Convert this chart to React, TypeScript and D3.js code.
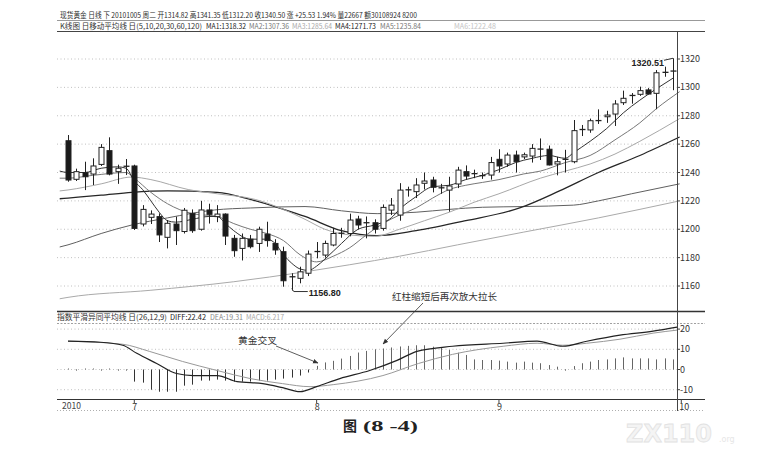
import React, { useEffect, useRef } from 'react';
import * as d3 from 'd3';

// daily candles, index 0 = first bar on the left (late June 2010)
const opens = [
  1262.4, 1235.2, 1239.9, 1238.9, 1245.7, 1255.4, 1240.6, 1243.7, 1244.6, 1203.7,
  1208.4, 1208.9, 1194.3, 1203.7, 1198.4, 1211.2, 1200.0, 1213.6, 1208.9, 1210.7,
  1193.6, 1186.5, 1193.0, 1190.0, 1196.6, 1190.0, 1184.2, 1165.8, 1165.4, 1169.0,
  1183.5, 1181.8, 1188.9, 1196.6, 1197.0, 1207.2, 1204.0, 1204.6, 1200.6, 1213.5,
  1210.0, 1227.2, 1226.5, 1232.4, 1234.7, 1229.2, 1227.6, 1231.9, 1240.6, 1238.6,
  1237.8, 1238.2, 1249.3, 1246.0, 1252.3, 1251.0, 1251.6, 1255.5, 1256.4, 1246.0,
  1248.6, 1247.6, 1269.7, 1270.0, 1276.0, 1279.3, 1281.2, 1289.2, 1293.7, 1295.1,
  1298.2, 1295.8, 1310.0, 1311.5
];
const highs = [
  1266.4, 1242.7, 1247.6, 1250.0, 1260.0, 1264.8, 1245.5, 1249.5, 1245.5, 1217.0,
  1213.3, 1211.2, 1206.5, 1208.9, 1215.0, 1214.0, 1220.0, 1218.0, 1217.0, 1211.2,
  1196.0, 1197.0, 1196.0, 1201.8, 1205.3, 1193.0, 1187.7, 1169.0, 1173.6, 1185.0,
  1191.0, 1192.0, 1201.0, 1201.0, 1211.0, 1209.5, 1209.0, 1207.0, 1217.5, 1222.0,
  1232.5, 1230.0, 1236.0, 1240.0, 1237.0, 1232.0, 1237.0, 1244.0, 1245.0, 1242.0,
  1240.0, 1251.0, 1256.4, 1254.0, 1255.4, 1254.0, 1260.0, 1264.0, 1259.0, 1251.0,
  1256.0, 1277.0, 1273.5, 1278.0, 1284.5, 1283.5, 1291.0, 1297.7, 1296.0, 1300.5,
  1299.5, 1312.2, 1314.6, 1320.51
];
const lows = [
  1233.5, 1234.0, 1227.6, 1231.2, 1244.6, 1238.0, 1232.0, 1238.2, 1199.5, 1202.0,
  1203.7, 1191.0, 1186.5, 1188.9, 1197.0, 1197.5, 1199.0, 1204.0, 1205.0, 1188.9,
  1180.6, 1178.0, 1186.5, 1184.0, 1187.7, 1182.0, 1159.5, 1156.8, 1161.9, 1167.0,
  1179.5, 1180.0, 1188.0, 1194.0, 1195.0, 1200.0, 1193.6, 1197.0, 1199.0, 1210.0,
  1206.0, 1223.0, 1222.0, 1228.0, 1226.0, 1225.0, 1212.4, 1229.0, 1235.0, 1236.0,
  1235.5, 1235.0, 1240.0, 1244.0, 1240.0, 1249.5, 1247.0, 1248.8, 1245.0, 1238.0,
  1240.0, 1246.5, 1265.7, 1268.0, 1274.2, 1275.0, 1272.8, 1287.6, 1288.5, 1294.0,
  1295.0, 1284.6, 1307.5, 1298.0
];
const closes = [
  1234.7, 1240.6, 1237.0, 1244.6, 1257.7, 1238.9, 1243.0, 1244.4, 1200.6, 1214.0,
  1210.7, 1196.0, 1204.2, 1199.0, 1213.4, 1199.0, 1213.6, 1210.5, 1210.7, 1195.2,
  1184.9, 1193.6, 1187.7, 1200.0, 1192.0, 1185.4, 1163.7, 1166.5, 1170.0, 1182.5,
  1184.3, 1190.0, 1197.0, 1197.2, 1206.5, 1203.0, 1204.6, 1200.0, 1215.4, 1217.0,
  1227.6, 1227.8, 1231.2, 1234.0, 1229.6, 1228.9, 1230.5, 1241.7, 1237.5, 1239.2,
  1237.2, 1247.0, 1244.6, 1252.3, 1247.6, 1252.5, 1257.0, 1256.5, 1245.3, 1247.6,
  1249.3, 1269.5, 1270.3, 1276.5, 1276.6, 1280.5, 1288.3, 1292.3, 1294.3, 1297.7,
  1295.3, 1310.3, 1310.6, 1310.8
];

// moving averages as [bar index, price]
const ma5: [number, number][] = [
  [-1, 1241], [0, 1240], [2, 1240], [4, 1243], [6, 1244], [7, 1243], [8, 1234], [9, 1228],
  [10, 1220], [11, 1212], [12, 1206], [13, 1205], [15, 1207], [17, 1209], [18, 1209],
  [19, 1204], [20, 1199], [22, 1193], [24, 1193], [25, 1190], [26, 1182], [27, 1176],
  [28, 1172], [29, 1171], [30, 1174], [31, 1179], [33, 1190], [35, 1200], [37, 1203],
  [39, 1208], [40, 1214], [42, 1223], [44, 1230], [46, 1231], [48, 1235], [50, 1238],
  [52, 1242], [54, 1247], [56, 1250], [58, 1252], [60, 1250], [61, 1254], [63, 1262],
  [65, 1271], [67, 1282], [69, 1291], [71, 1299], [73, 1306.5]
];
const ma10: [number, number][] = [
  [-1, 1236], [0, 1236], [3, 1238], [7, 1240], [8, 1236], [10, 1226], [12, 1218],
  [15, 1211], [18, 1209], [20, 1204], [22, 1200], [24, 1197], [26, 1192], [28, 1182],
  [30, 1177], [32, 1181], [34, 1187], [36, 1196], [38, 1204], [40, 1210], [42, 1215],
  [44, 1222], [46, 1228], [48, 1231], [50, 1233], [52, 1235], [55, 1239], [57, 1241],
  [60, 1247], [63, 1252], [66, 1263], [69, 1275], [71, 1285], [73.8, 1297]
];
const ma20: [number, number][] = [
  [-1, 1227], [0, 1227.7], [4, 1232], [7.7, 1236.8], [10, 1235], [14.5, 1228],
  [18, 1225], [22.6, 1221], [26, 1214], [28.6, 1207], [31, 1200], [34, 1196],
  [37, 1195], [40, 1200], [43, 1206], [46, 1212], [49, 1219], [52, 1225], [57, 1236],
  [60, 1241], [63, 1246], [66, 1253], [69, 1262], [73.8, 1278]
];
const ma30: [number, number][] = [
  [-1, 1221.5], [0, 1222], [4, 1224], [7.7, 1226], [12, 1227], [18, 1226], [22, 1221],
  [26, 1214], [28.6, 1209], [33, 1199], [37.3, 1195.5], [42, 1199], [48, 1206],
  [54.5, 1215], [59.3, 1227], [64, 1240], [69, 1252], [73.8, 1265]
];
const ma60: [number, number][] = [
  [-1, 1187.5], [0, 1189], [4, 1197], [7.7, 1203], [12, 1208], [17.7, 1213.6], [22, 1215],
  [28.6, 1216], [33, 1213], [37.3, 1211], [42, 1212], [46, 1214], [50, 1215.5],
  [55, 1216], [61, 1217], [64, 1220], [68, 1225], [73.8, 1232]
];
const ma120: [number, number][] = [
  [-1, 1151], [0, 1152], [10, 1157], [20, 1163], [28.6, 1170], [34, 1175], [40, 1181],
  [47, 1189], [55, 1198], [64, 1208], [73.8, 1220]
];

const diffLine: [number, number][] = [
  [0, 14], [3.9, 13.5], [6.6, 12], [8.3, 8], [10.7, 3], [13.1, -2], [15.1, -3], [18, -3],
  [20.4, -6], [23.5, -7], [25.9, -9], [28, -11], [30, -8.5], [32.8, -4.5], [36.4, -0.5],
  [39.7, 4.5], [42.1, 9], [46.4, 11.5], [52.5, 13], [56.6, 14], [59.7, 11.5], [62.6, 14],
  [66.6, 17], [70.6, 19], [73.5, 21]
];
const deaLine: [number, number][] = [
  [0, 14], [6.6, 12.5], [9.8, 9], [13.8, 4], [18, -0.5], [22, -4.5], [25.9, -7],
  [29.2, -8.5], [32, -7.5], [38, -3], [42.3, 3], [46.4, 7.5], [52.5, 11.5], [56.6, 13],
  [59.7, 12], [62.6, 13], [66.6, 15], [70.6, 18], [73.5, 19.5]
];
const macdBars = [
  0.5, -0.5, 0.5, 0.5, -0.5, 0.5, -0.5, -0.5, -6, -6.5,
  -10, -11, -11, -11, -8, -7.5, -5.5, -5.5, -5, -5.5,
  -6, -6, -6, -5.5, -5.5, -5, -4.5, -4, -3, -1.5,
  1.8, 3.5, 4.3, 5.4, 6.7, 8.4, 9.2, 10, 10.4, 10.9,
  11.4, 11.7, 12, 12, 11.3, 10.8, 9.7, 8.3, 7.2, 5,
  4.7, 4.7, 4.4, 3.9, 3.4, 3.9, 3.4, 3.1, 2.2, 1.4,
  -0.5, 1.7, 3.1, 3.9, 4.7, 5, 5.5, 6, 5.5, 5.5,
  5.5, 5, 5.5, 5
];

const priceTicks = [1160, 1180, 1200, 1220, 1240, 1260, 1280, 1300, 1320];
const macdTicks = [20, 10, 0, -10];
const monthIdx = [8, 30, 52, 74];
const monthLabels = ['7', '8', '9', '10'];

const quoteHeader = '现货黄金 日线 下 20101005 周二 开1314.82 高1341.35 低1312.20 收1340.50 涨 +25.53 1.94% 量22667 额30108924 8200';

// header pieces with the x where each starts
const maHeader = ['K线图 日移动平均线 日(5,10,20,30,60,120)', 'MA1:1318.32', 'MA2:1307.36', 'MA3:1285.64', 'MA4:1271.73', 'MA5:1235.84', 'MA6:1222.48'];
const maHeaderX = [60, 206, 249, 292, 335, 380, 454];
const maHeaderW = [142, 40, 40, 40, 41, 41, 42];
const maHeaderColors = ['#333', '#222', '#777', '#aaa', '#222', '#777', '#c4c4c4'];

const macdHeader = ['指数平滑异同平均线 日(26,12,9)', 'DIFF:22.42', 'DEA:19.31', 'MACD:6.217'];
const macdHeaderX = [57, 170, 210, 246];
const macdHeaderW = [110, 36, 33, 38];
const macdHeaderColors = ['#333', '#222', '#888', '#aaa'];

const FONT = "'Noto Sans CJK SC', 'Noto Sans', sans-serif";

const App: React.FC = () => {
  const svgRef = useRef<SVGSVGElement>(null);

  useEffect(() => {
    if (!svgRef.current) return;
    const svg = d3.select(svgRef.current);
    svg.selectAll('*').remove();

    const left = 57;
    const axisX = 677;
    const rightEnd = 705;

    const x = d3.scaleLinear().domain([0, 73]).range([68, 673]);
    const yP = d3.scaleLinear().domain([1160, 1320]).range([286, 59]);
    const yM = d3.scaleLinear().domain([-10, 20]).range([389.7, 329.1]);

    svg.append('rect').attr('width', 759).attr('height', 451).attr('fill', '#fff');

    const defs = svg.append('defs');
    defs.append('marker')
      .attr('id', 'arr')
      .attr('viewBox', '0 0 10 10')
      .attr('refX', 9).attr('refY', 5)
      .attr('markerWidth', 7).attr('markerHeight', 7)
      .attr('orient', 'auto')
      .append('path').attr('d', 'M0,1 L10,5 L0,9 Z').attr('fill', '#333');

    const headerRow = (parts: string[], xs: number[], ws: number[], colors: string[], y: number) => {
      parts.forEach((s, i) => {
        svg.append('text')
          .attr('x', xs[i]).attr('y', y)
          .attr('font-family', FONT).attr('font-size', 7.6).attr('fill', colors[i])
          .attr('textLength', ws[i]).attr('lengthAdjust', 'spacingAndGlyphs')
          .text(s);
      });
    };

    const hl = (y: number, color: string, w: number, dash?: string) => {
      const l = svg.append('line')
        .attr('x1', left).attr('x2', rightEnd).attr('y1', y).attr('y2', y)
        .attr('stroke', color).attr('stroke-width', w);
      if (dash) l.attr('stroke-dasharray', dash);
      return l;
    };

    // header rows
    svg.append('text')
      .attr('x', 60).attr('y', 17.5)
      .attr('font-family', FONT).attr('font-size', 7.6).attr('fill', '#2a2a2a')
      .attr('textLength', 357).attr('lengthAdjust', 'spacingAndGlyphs')
      .text(quoteHeader);
    hl(20.5, '#999', 1);
    headerRow(maHeader, maHeaderX, maHeaderW, maHeaderColors, 28.5);
    hl(31.5, '#444', 1);

    // price grid
    priceTicks.forEach(p => {
      svg.append('line')
        .attr('x1', left).attr('x2', axisX).attr('y1', yP(p)).attr('y2', yP(p))
        .attr('stroke', '#b0b0b0').attr('stroke-width', 0.8).attr('stroke-dasharray', '1,2.5');
      svg.append('line')
        .attr('x1', axisX).attr('x2', axisX + 3).attr('y1', yP(p)).attr('y2', yP(p))
        .attr('stroke', '#444');
      svg.append('text')
        .attr('x', axisX + 3).attr('y', yP(p) + 3)
        .attr('font-family', FONT).attr('font-size', 9).attr('fill', '#333')
        .text(p);
    });

    // moving averages
    const line = d3.line<[number, number]>()
      .x(d => x(d[0]))
      .y(d => yP(d[1]))
      .curve(d3.curveMonotoneX);
    const maStyles: [[number, number][], string, number][] = [
      [ma120, '#aaa', 1],
      [ma60, '#606060', 1],
      [ma30, '#262626', 1.3],
      [ma20, '#a8a8a8', 1],
      [ma10, '#777', 1],
      [ma5, '#333', 1]
    ];
    maStyles.forEach(([data, color, w]) => {
      svg.append('path')
        .datum(data)
        .attr('d', line)
        .attr('fill', 'none')
        .attr('stroke', color)
        .attr('stroke-width', w);
    });

    // candles
    const bw = 5;
    const candles = svg.append('g');
    opens.forEach((o, i) => {
      const c = closes[i];
      const cx = Math.round(x(i)) + 0.5;
      candles.append('line')
        .attr('x1', cx).attr('x2', cx)
        .attr('y1', yP(highs[i])).attr('y2', yP(lows[i]))
        .attr('stroke', '#222').attr('stroke-width', 1);
      const top = yP(Math.max(o, c));
      const h = Math.abs(yP(o) - yP(c));
      if (h < 1.5) {
        candles.append('line')
          .attr('x1', cx - bw / 2 - 0.5).attr('x2', cx + bw / 2 + 0.5)
          .attr('y1', top).attr('y2', top)
          .attr('stroke', '#222').attr('stroke-width', 1.3);
      } else {
        candles.append('rect')
          .attr('x', cx - bw / 2).attr('y', top)
          .attr('width', bw).attr('height', h)
          .attr('fill', c < o ? '#1a1a1a' : '#fff')
          .attr('stroke', '#222').attr('stroke-width', 1);
      }
    });

    // low / high labels
    const lowI = 27;
    const lx = x(lowI);
    const ly = yP(lows[lowI]);
    svg.append('path')
      .attr('d', `M${lx},${ly - 2} L${lx + 2},${ly + 1} L${lx + 16},${ly + 1}`)
      .attr('fill', 'none').attr('stroke', '#333');
    svg.append('text')
      .attr('x', lx + 17).attr('y', ly + 5)
      .attr('font-family', "'Liberation Sans', sans-serif").attr('font-size', 9)
      .attr('font-weight', 'bold').attr('fill', '#222')
      .text(lows[lowI].toFixed(2));

    const hiI = 73;
    const hx = x(hiI);
    const hy = yP(highs[hiI]);
    svg.append('line')
      .attr('x1', hx - 9).attr('y1', hy + 2).attr('x2', hx).attr('y2', hy)
      .attr('stroke', '#333');
    svg.append('text')
      .attr('x', hx - 9).attr('y', hy + 8)
      .attr('text-anchor', 'end')
      .attr('font-family', "'Liberation Sans', sans-serif").attr('font-size', 9)
      .attr('font-weight', 'bold').attr('fill', '#222')
      .text(highs[hiI].toFixed(2));

    // MACD panel
    hl(311.5, '#333', 1.6);
    headerRow(macdHeader, macdHeaderX, macdHeaderW, macdHeaderColors, 320);
    hl(323.5, '#888', 0.8, '2,1.5');

    macdTicks.forEach(v => {
      svg.append('line')
        .attr('x1', left).attr('x2', axisX).attr('y1', yM(v)).attr('y2', yM(v))
        .attr('stroke', '#b0b0b0').attr('stroke-width', 0.8).attr('stroke-dasharray', '1,2.5');
      svg.append('line')
        .attr('x1', axisX).attr('x2', axisX + 3).attr('y1', yM(v)).attr('y2', yM(v))
        .attr('stroke', '#444');
      svg.append('text')
        .attr('x', axisX + 3).attr('y', yM(v) + 3)
        .attr('font-family', FONT).attr('font-size', 9).attr('fill', '#333')
        .text(v);
    });

    macdBars.forEach((v, i) => {
      const bx = Math.round(x(i)) + 0.5;
      svg.append('line')
        .attr('x1', bx).attr('x2', bx)
        .attr('y1', yM(0)).attr('y2', yM(v))
        .attr('stroke', v < 0 ? '#333' : '#666').attr('stroke-width', 1);
    });

    const mline = d3.line<[number, number]>()
      .x(d => x(d[0]))
      .y(d => yM(d[1]))
      .curve(d3.curveMonotoneX);
    svg.append('path').datum(deaLine).attr('d', mline)
      .attr('fill', 'none').attr('stroke', '#999').attr('stroke-width', 1);
    svg.append('path').datum(diffLine).attr('d', mline)
      .attr('fill', 'none').attr('stroke', '#222').attr('stroke-width', 1.2);

    // annotations
    svg.append('text')
      .attr('x', 392).attr('y', 299.5)
      .attr('font-family', FONT).attr('font-size', 9.5).attr('fill', '#333')
      .attr('textLength', 105).attr('lengthAdjust', 'spacingAndGlyphs')
      .text('红柱缩短后再次放大拉长');
    svg.append('line')
      .attr('x1', 423).attr('y1', 303).attr('x2', 383).attr('y2', 344)
      .attr('stroke', '#333').attr('stroke-width', 0.8).attr('marker-end', 'url(#arr)');

    svg.append('text')
      .attr('x', 238).attr('y', 343.5)
      .attr('font-family', FONT).attr('font-size', 9.5).attr('fill', '#333')
      .attr('textLength', 39).attr('lengthAdjust', 'spacingAndGlyphs')
      .text('黄金交叉');
    svg.append('line')
      .attr('x1', 276).attr('y1', 346).attr('x2', 318).attr('y2', 363)
      .attr('stroke', '#333').attr('stroke-width', 0.8).attr('marker-end', 'url(#arr)');

    // bottom axis
    hl(399.5, '#333', 1);
    hl(410.5, '#999', 0.8, '1,2');
    svg.append('line')
      .attr('x1', axisX + 0.5).attr('x2', axisX + 0.5).attr('y1', 31.5).attr('y2', 411)
      .attr('stroke', '#444').attr('stroke-width', 1);

    svg.append('text')
      .attr('x', 62).attr('y', 409)
      .attr('font-family', FONT).attr('font-size', 8.5).attr('fill', '#444')
      .text('2010');
    monthIdx.forEach((m, i) => {
      const mx = x(m);
      svg.append('line')
        .attr('x1', mx).attr('x2', mx).attr('y1', 399.5).attr('y2', 403)
        .attr('stroke', '#444');
      svg.append('text')
        .attr('x', mx - 2).attr('y', 409.5)
        .attr('font-family', FONT).attr('font-size', 9).attr('fill', '#333')
        .text(monthLabels[i]);
    });

    // figure caption
    svg.append('text')
      .attr('x', 343).attr('y', 431)
      .attr('font-family', "'Noto Sans CJK SC', sans-serif").attr('font-size', 14)
      .attr('font-weight', 'bold').attr('fill', '#222')
      .text('图');
    svg.append('text')
      .attr('x', 363).attr('y', 431)
      .attr('font-family', "'Liberation Serif', serif").attr('font-size', 15)
      .attr('font-weight', 'bold').attr('fill', '#222')
      .attr('textLength', 55).attr('lengthAdjust', 'spacingAndGlyphs')
      .text('(8 -4)');

    // faint watermark
    svg.append('text')
      .attr('x', 626).attr('y', 442)
      .attr('font-family', "'DejaVu Sans', sans-serif").attr('font-size', 24)
      .attr('font-weight', 'bold').attr('fill', '#f4f4f4').attr('stroke', '#e2e2e2')
      .attr('stroke-width', 0.8)
      .text('ZX110');
    svg.append('text')
      .attr('x', 719).attr('y', 442)
      .attr('font-family', "'DejaVu Sans', sans-serif").attr('font-size', 8)
      .attr('fill', '#e6e6e6')
      .text('.org');
  }, []);

  return (
    <svg
      ref={svgRef}
      width={759}
      height={451}
      style={{ position: 'absolute', left: 0, top: 0, background: '#fff' }}
    />
  );
};

export default App;
